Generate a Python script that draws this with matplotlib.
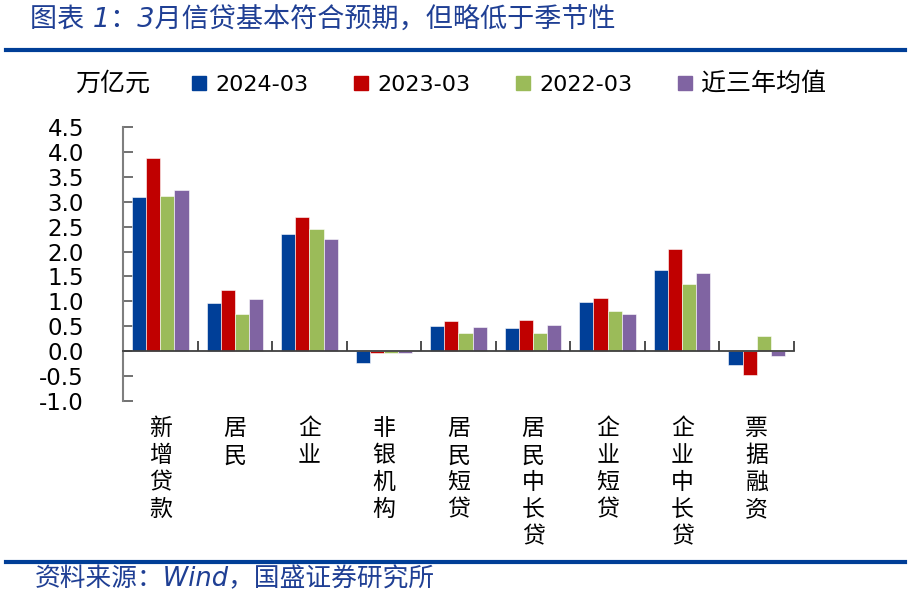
import matplotlib
matplotlib.use("Agg")
import matplotlib.pyplot as plt
from matplotlib.lines import Line2D
import numpy as np

plt.rcParams['font.family'] = ['DejaVu Sans', 'Noto Sans CJK SC']
plt.rcParams['axes.unicode_minus'] = False

categories = ['新增贷款', '居民', '企业', '非银机构', '居民短贷', '居民中长贷',
              '企业短贷', '企业中长贷', '票据融资']
series_names = ['2024-03', '2023-03', '2022-03', '近三年均值']
v_2024 = [3.10, 0.96, 2.35, -0.23, 0.50, 0.47, 0.99, 1.62, -0.27]
v_2023 = [3.87, 1.23, 2.69, -0.03, 0.60, 0.63, 1.07, 2.06, -0.47]
v_2022 = [3.12, 0.75, 2.46, -0.04, 0.37, 0.37, 0.80, 1.34, 0.31]
v_avg = [3.24, 1.04, 2.25, -0.03, 0.49, 0.53, 0.75, 1.57, -0.10]
colors = ['#003F98', '#C00000', '#9BBB59', '#8064A2']
yticks = [-1.0, -0.5, 0.0, 0.5, 1.0, 1.5, 2.0, 2.5, 3.0, 3.5, 4.0, 4.5]

W, H = 908, 596
fig = plt.figure(figsize=(W / 100, H / 100), dpi=100)
ax = fig.add_axes([123 / W, 1 - 401 / H, (794 - 123) / W, (401 - 127) / H])

x = np.arange(len(categories))
w = 0.19
for k, (vals, c) in enumerate(zip([v_2024, v_2023, v_2022, v_avg], colors)):
    ax.bar(x + (k - 1.5) * w, vals, width=w, color=c, edgecolor='white',
           linewidth=0.4, zorder=2)

ax.set_xlim(-0.5, len(categories) - 0.5)
ax.set_ylim(-1.0, 4.5)
ax.set_yticks(yticks)
ax.set_yticklabels(['%.1f' % t for t in yticks], fontsize=16.5)
ax.tick_params(axis='y', direction='in', length=7, width=1.2, color='#595959',
               pad=28)

for s in ['top', 'right']:
    ax.spines[s].set_visible(False)
ax.spines['left'].set_color('#7f7f7f')
ax.spines['left'].set_linewidth(1.5)
ax.spines['bottom'].set_position(('data', 0))
ax.spines['bottom'].set_color('#404040')
ax.spines['bottom'].set_linewidth(1.3)
ax.set_xticks(np.arange(len(categories) + 1) - 0.5)
ax.set_xticklabels([])
ax.tick_params(axis='x', direction='in', length=7, width=1.3, color='#404040')

for i, name in enumerate(categories):
    ax.text(i, -0.06, '\n'.join(name), transform=ax.get_xaxis_transform(),
            ha='center', va='top', fontsize=16.5, linespacing=1.22,
            family=['Noto Sans CJK SC'])

handles = [Line2D([], [], marker='s', ls='', markersize=10, color=c) for c in colors]
leg = fig.legend(handles, series_names, loc='center left',
                 bbox_to_anchor=(191 / W, 1 - 84 / H), ncol=4, frameon=False,
                 fontsize=16, handlelength=0.7, handletextpad=0.4,
                 columnspacing=2.0, borderpad=0, borderaxespad=0)
leg.get_texts()[3].set_fontsize(18)
fig.text(75 / W, 1 - 84 / H, '万亿元', fontsize=18, va='center', ha='left')

fig.text(30 / W, 1 - 20 / H, '图表 1：3月信贷基本符合预期，但略低于季节性',
         fontsize=19.5, color='#1F3F94', va='center', ha='left', style='italic')
fig.add_artist(Line2D([6 / W, 905 / W], [1 - 50 / H, 1 - 50 / H],
                      color='#003E97', lw=3, transform=fig.transFigure))
fig.add_artist(Line2D([6 / W, 905 / W], [1 - 562 / H, 1 - 562 / H],
                      color='#003E97', lw=3, transform=fig.transFigure))
fig.text(35 / W, 1 - 579 / H, '资料来源：Wind，国盛证券研究所',
         fontsize=18.5, color='#1F3F94', va='center', ha='left', style='italic')

fig.savefig('out.png', dpi=100)
